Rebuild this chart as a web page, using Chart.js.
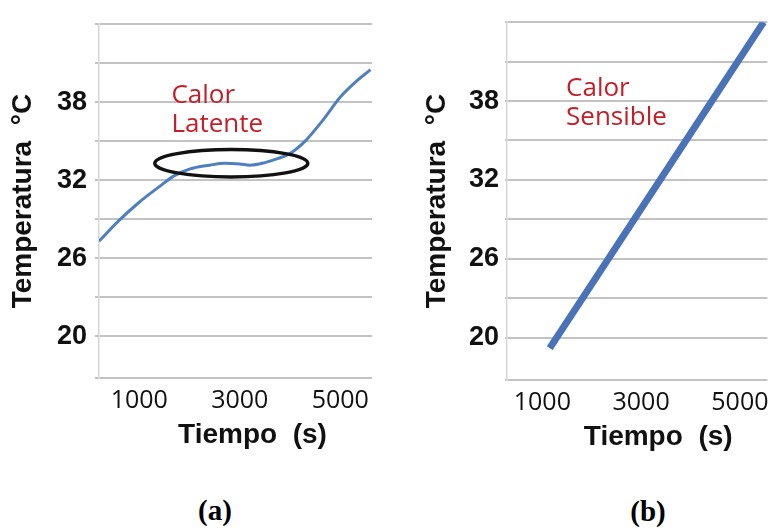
<!DOCTYPE html>
<html>
<head>
<meta charset="utf-8">
<script src="https://cdn.jsdelivr.net/npm/chart.js@4.4.1/dist/chart.umd.min.js"></script>
<style>
  body { margin: 0; background: #fff; }
  #lienzo { position: relative; width: 777px; height: 528px; overflow: hidden; background: #fff; }
  .panel { position: absolute; top: 0; }
  .pie { position: absolute; width: 80px; text-align: center; font: bold 29px "Liberation Serif", serif; line-height: 29px; color: #000; }
</style>
</head>
<body>
<div id="lienzo">
  <div class="panel" style="left:0px"><canvas id="graficaA" width="390" height="470"></canvas></div>
  <div class="panel" style="left:390px"><canvas id="graficaB" width="387" height="470"></canvas></div>
  <div class="pie" style="left:175px; top:496px">(a)</div>
  <div class="pie" style="left:608px; top:497px">(b)</div>
</div>
<script>
// datos
const tiempoA = [200, 600, 1000, 1400, 1700, 2000, 2400, 2700, 3000, 3200, 3500, 3750, 4000, 4300, 4650, 5000, 5300, 5600];
const tempA = [27.3, 28.9, 30.3, 31.5, 32.35, 32.85, 33.15, 33.3, 33.25, 33.15, 33.35, 33.65, 34.05, 35.0, 36.6, 38.4, 39.55, 40.5];

const tiempoB = [1150, 5480];
const tempB = [19.2, 44.0];

const xTicks = [1000, 3000, 5000];
const yGrid = [16.775, 20, 23, 26, 29, 32, 35, 38, 41, 44];
const yLabels = [20, 26, 32, 38];

// elipse que marca el calor latente (centro y radios en unidades de datos)
const elipseA = { cx: 2831, cy: 33.3, rx: 1522, ry: 1.05 };

Chart.defaults.font.family = '"Liberation Sans", Arial, sans-serif';
Chart.defaults.color = '#111';

// plugin para textos rojos, elipse y titulo del eje x
const anotaciones = {
    id: 'anotaciones',
    afterDatasetsDraw(chart, args, opts) {
        const { ctx, chartArea } = chart;
        const x = chart.scales.x, y = chart.scales.y;
        ctx.save();
        if (opts.elipse) {
            const e = opts.elipse;
            const cx = x.getPixelForValue(e.cx), cy = y.getPixelForValue(e.cy);
            const rx = x.getPixelForValue(e.cx + e.rx) - cx;
            const ry = cy - y.getPixelForValue(e.cy + e.ry);
            ctx.beginPath();
            ctx.ellipse(cx, cy, rx, ry, 0, 0, Math.PI * 2);
            ctx.lineWidth = 3.5;
            ctx.strokeStyle = '#111';
            ctx.stroke();
        }
        ctx.fillStyle = '#c41e28';
        ctx.font = '26px "Open Sans", sans-serif';
        ctx.textAlign = 'left';
        ctx.textBaseline = 'alphabetic';
        const tx = x.getPixelForValue(opts.pos[0]), ty = y.getPixelForValue(opts.pos[1]);
        opts.texto.forEach((t, i) => ctx.fillText(t, tx, ty + i * 29));

        ctx.fillStyle = '#111';
        ctx.font = 'bold 28px "Liberation Sans", Arial, sans-serif';
        ctx.textAlign = 'center';
        ctx.fillText('Tiempo  (s)', (chartArea.left + chartArea.right) / 2 + opts.dx, chartArea.bottom + 65);
        ctx.restore();
    }
};

function opciones(cfg) {
    return {
        responsive: false,
        animation: false,
        devicePixelRatio: 1,
        layout: { padding: { top: cfg.top, right: cfg.right, bottom: 0, left: 0 } },
        plugins: {
            legend: { display: false },
            tooltip: { enabled: false },
            anotaciones: cfg.anot
        },
        scales: {
            x: {
                type: 'linear',
                min: cfg.xmin, max: cfg.xmax,
                afterBuildTicks: s => { s.ticks = xTicks.map(v => ({ value: v })); },
                afterFit: s => { s.height = cfg.xAlto; },
                grid: { display: false, drawTicks: false },
                border: { display: false },
                ticks: {
                    padding: 8,
                    color: '#111',
                    font: { family: '"Open Sans", sans-serif', size: 25 },
                    callback: v => String(v)
                }
            },
            y: {
                min: 16.775, max: 44,
                afterBuildTicks: s => { s.ticks = yGrid.map(v => ({ value: v })); },
                afterFit: s => { s.width = cfg.yAncho; },
                grid: { color: '#c2c2c2', lineWidth: 2, tickLength: cfg.tick },
                border: { display: true, color: '#d6d6d6', width: 1.5 },
                ticks: {
                    padding: cfg.yPad,
                    color: '#111',
                    font: { size: 27, weight: 'bold' },
                    callback: v => yLabels.includes(v) ? String(v) : ''
                },
                title: {
                    display: true,
                    text: 'Temperatura  °C',
                    color: '#111',
                    font: { size: 28, weight: 'bold' },
                    padding: { top: cfg.tPad, bottom: 0 }
                }
            }
        }
    };
}

// (a) calor latente
new Chart(document.getElementById('graficaA'), {
    type: 'line',
    data: {
        datasets: [{
            data: tiempoA.map((t, i) => ({ x: t, y: tempA[i] })),
            borderColor: '#4f7fbf',
            borderWidth: 3,
            pointRadius: 0,
            tension: 0.4,
            cubicInterpolationMode: 'monotone'
        }]
    },
    options: opciones({
        top: 15, right: 18, xmin: 200, xmax: 5630, xAlto: 92, yAncho: 99, tick: 4, yPad: 8, tPad: 6,
        anot: { elipse: elipseA, texto: ['Calor', 'Latente'], pos: [1640, 37.9], dx: 17 }
    }),
    plugins: [anotaciones]
});

// (b) calor sensible
new Chart(document.getElementById('graficaB'), {
    type: 'line',
    data: {
        datasets: [{
            data: tiempoB.map((t, i) => ({ x: t, y: tempB[i] })),
            borderColor: '#4a72b6',
            borderWidth: 7,
            pointRadius: 0
        }]
    },
    options: opciones({
        top: 17, right: 5, xmin: 284, xmax: 5557, xAlto: 90, yAncho: 117, tick: 2, yPad: 6, tPad: 30,
        anot: { elipse: null, texto: ['Calor', 'Sensible'], pos: [1480, 38.4], dx: 21 }
    }),
    plugins: [anotaciones]
});
</script>
</body>
</html>
